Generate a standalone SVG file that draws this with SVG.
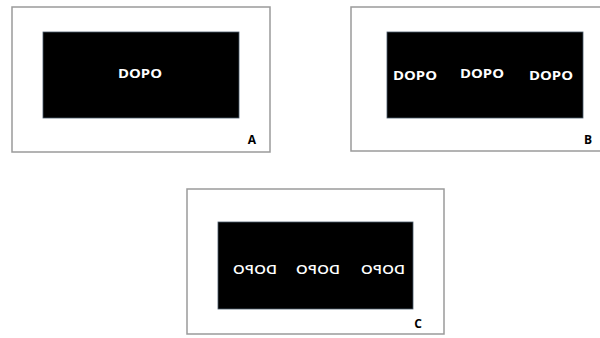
<svg xmlns="http://www.w3.org/2000/svg" width="600" height="338" viewBox="0 0 600 338">
<style>
.frame{fill:#fff;stroke:#9a9a9a;stroke-width:1.5}
.screen{fill:#000;stroke:#4a5a6a;stroke-width:0.8}
.t{fill:#fff;font-family:"Open Sans","DejaVu Sans",sans-serif;font-weight:bold;font-size:13px;text-anchor:middle}
.m{font-weight:600}
.lbl{fill:#000;font-family:"Open Sans","DejaVu Sans",sans-serif;font-weight:bold;font-size:12px;text-anchor:middle}
</style>
<rect width="600" height="338" fill="#fff"/>
<g id="panelA">
<rect class="frame" x="12" y="7" width="258" height="145"/>
<rect class="screen" x="43" y="32" width="196" height="86"/>
<text class="t" x="140" y="78" textLength="44" lengthAdjust="spacingAndGlyphs">DOPO</text>
<text class="lbl" x="252" y="144">A</text>
</g>
<g id="panelB">
<rect class="frame" x="351" y="7" width="260" height="144"/>
<rect class="screen" x="387" y="32" width="196" height="86"/>
<text class="t" x="415" y="80" textLength="44" lengthAdjust="spacingAndGlyphs">DOPO</text>
<text class="t" x="482" y="78" textLength="44" lengthAdjust="spacingAndGlyphs">DOPO</text>
<text class="t" x="551" y="80" textLength="44" lengthAdjust="spacingAndGlyphs">DOPO</text>
<text class="lbl" x="588" y="144">B</text>
</g>
<g id="panelC">
<rect class="frame" x="187" y="189" width="257" height="145"/>
<rect class="screen" x="218" y="222" width="195" height="87"/>
<g transform="scale(-1,1)">
<text class="t m" x="-255" y="274" textLength="44" lengthAdjust="spacingAndGlyphs">DOPO</text>
<text class="t m" x="-318" y="274" textLength="44" lengthAdjust="spacingAndGlyphs">DOPO</text>
<text class="t m" x="-383" y="274" textLength="44" lengthAdjust="spacingAndGlyphs">DOPO</text>
</g>
<text class="lbl" x="418" y="328">C</text>
</g>
</svg>
